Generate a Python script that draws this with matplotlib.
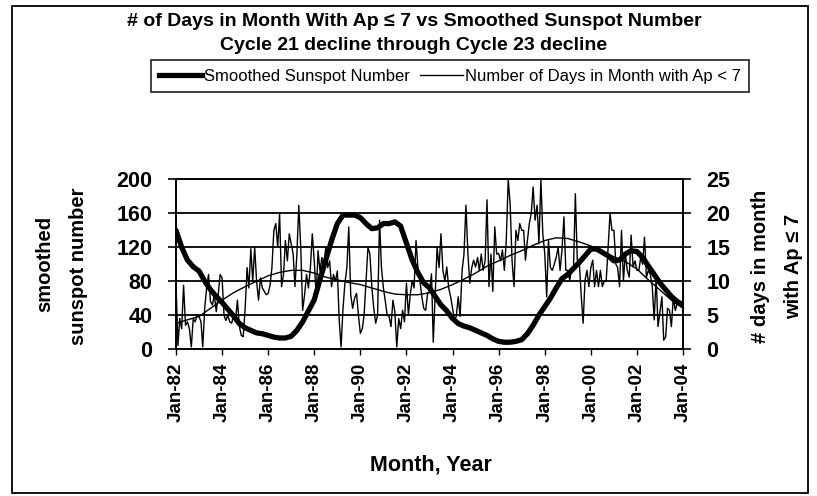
import matplotlib
matplotlib.use("Agg")
import matplotlib.pyplot as plt
import matplotlib.dates as mdates
from matplotlib.lines import Line2D
from matplotlib.patches import Rectangle
import pandas as pd

plt.rcParams['font.family'] = ['Liberation Sans', 'DejaVu Sans']

# ---------------- data ----------------
# Smoothed sunspot number, quarterly (Jan/Apr/Jul/Oct), Jan-1982 .. Jan-2004
ssn_values = [
    140, 120, 105, 97,    # 1982
    92, 80, 70, 62,       # 1983
    55, 47, 39, 30,       # 1984
    25, 22, 19, 18,       # 1985
    16, 14, 13, 13,       # 1986
    15, 22, 32, 45,       # 1987
    58, 82, 105, 128,     # 1988
    148, 158, 158, 158,   # 1989
    155, 148, 142, 143,   # 1990
    148, 148, 150, 145,   # 1991
    125, 105, 90, 78,     # 1992
    72, 62, 52, 45,       # 1993
    36, 30, 27, 25,       # 1994
    22, 19, 16, 12,       # 1995
    9, 8, 8, 9,           # 1996
    11, 18, 28, 40,       # 1997
    50, 60, 72, 83,       # 1998
    88, 95, 102, 110,     # 1999
    118, 118, 114, 110,   # 2000
    104, 105, 112, 116,   # 2001
    115, 108, 98, 88,     # 2002
    78, 70, 62, 56,       # 2003
    52,                   # Jan 2004
]

# Number of days in month with Ap <= 7, monthly, Jan-1982 .. Jan-2004
days_values = [
    9.7, 0.5, 4.5, 3.0, 9.4, 3.5, 4.0, 3.0, 0.3, 4.5, 4.0, 5.0,          # 1982
    4.8, 4.0, 0.3, 6.0, 9.0, 11.0, 7.0, 6.5, 8.0, 5.5, 8.0, 11.0,        # 1983
    10.5, 5.0, 4.2, 5.0, 4.0, 3.8, 5.0, 4.3, 7.2, 3.3, 2.0, 1.8,         # 1984
    6.0, 12.0, 9.0, 14.8, 10.0, 15.0, 10.0, 7.2, 10.5, 9.0, 8.5, 8.0,    # 1985
    8.2, 9.5, 12.0, 17.5, 18.5, 15.0, 20.0, 9.2, 11.0, 16.0, 13.0, 17.0, # 1986
    15.5, 14.0, 9.2, 14.0, 21.2, 15.0, 5.7, 8.0, 11.0, 9.0, 12.0, 17.0,  # 1987
    13.0, 7.7, 14.5, 11.5, 13.5, 12.0, 15.0, 12.0, 13.0, 9.2, 11.0, 10.0, # 1988
    11.5, 4.0, 0.3, 6.0, 9.7, 12.0, 18.0, 8.0, 6.0, 7.5, 8.2, 5.0,       # 1989
    2.3, 3.0, 5.0, 10.0, 15.0, 14.0, 9.2, 6.0, 3.8, 5.0, 19.0, 12.0,     # 1990
    9.0, 7.0, 5.0, 4.8, 3.3, 7.2, 5.5, 0.3, 4.5, 3.0, 5.7, 4.0,          # 1991
    9.7, 5.0, 8.0, 10.1, 9.0, 16.0, 12.0, 10.1, 7.7, 6.0, 5.7, 8.2,      # 1992
    8.5, 11.1, 1.0, 8.0, 15.0, 12.0, 17.0, 11.6, 10.0, 12.1, 9.0, 7.7,   # 1993
    6.0, 4.3, 4.8, 7.7, 4.8, 11.6, 14.0, 21.2, 14.1, 9.7, 12.0, 13.1,    # 1994
    12.1, 13.5, 11.6, 14.0, 11.6, 13.0, 22.0, 9.2, 14.0, 8.5, 18.0, 14.0, # 1995
    14.1, 13.0, 14.6, 11.6, 16.0, 25.0, 21.5, 13.0, 9.2, 17.5, 16.0, 18.5, # 1996
    17.5, 17.5, 13.1, 16.0, 18.5, 20.0, 23.9, 19.0, 21.2, 15.5, 25.0, 17.0, # 1997
    14.1, 7.7, 16.0, 12.0, 11.6, 12.5, 13.5, 15.0, 11.6, 14.6, 19.5, 11.6, # 1998
    11.6, 10.1, 12.0, 11.6, 22.9, 13.0, 13.1, 8.0, 3.8, 10.1, 11.6, 9.2,  # 1999
    12.0, 13.1, 9.2, 11.6, 9.2, 11.6, 9.2, 10.0, 10.1, 15.0, 20.0, 17.5,  # 2000
    17.5, 12.5, 12.0, 9.2, 17.5, 10.1, 14.0, 11.6, 10.6, 16.8, 12.1, 13.0, # 2001
    11.6, 11.6, 13.5, 12.5, 16.5, 10.6, 11.6, 11.0, 9.2, 4.3, 10.6, 3.3,  # 2002
    5.5, 7.7, 1.3, 1.8, 6.0, 5.7, 3.3, 7.7, 5.7, 6.7, 7.0, 6.5,          # 2003
    7.0,                                                                  # Jan 2004
]

# Smooth trend of the days series, semi-annual (Jan/Jul)
trend_values = [
    3.8, 4.3, 4.8, 6.0, 7.2, 8.3, 9.2, 10.0, 10.8, 11.3, 11.6, 11.6,
    11.2, 10.6, 10.2, 9.8, 9.5, 9.0, 8.5, 8.1, 8.0, 8.0, 8.3, 8.8,
    9.5, 10.3, 11.2, 12.2, 13.0, 13.8, 14.5, 15.3, 16.0, 16.4, 16.3, 15.8,
    15.2, 14.4, 13.6, 12.9, 11.8, 10.2, 8.7, 7.2, 6.0,
]

ssn_dates = pd.date_range('1982-01-01', periods=len(ssn_values), freq='QS-JAN')
days_dates = pd.date_range('1982-01-01', periods=len(days_values), freq='MS')
trend_dates = pd.date_range('1982-01-01', periods=len(trend_values), freq='6MS')

title1 = "# of Days in Month With Ap \u2264 7 vs Smoothed Sunspot Number"
title2 = "Cycle 21 decline through Cycle 23 decline"
left_label = ["smoothed", "sunspot number"]
right_label = ["# days in month", "with Ap \u2264 7"]
legend_labels = ["Smoothed Sunspot Number", "Number of Days in Month with Ap < 7"]

# ---------------- figure ----------------
W, H = 817, 496
fig = plt.figure(figsize=(W / 100, H / 100), dpi=100)
fig.patch.set_facecolor('white')

def fx(px):
    return px / W

def fy(py):
    return 1 - py / H

left, right, top, bottom = 176, 683, 179.5, 349
ax = fig.add_axes([fx(left), fy(bottom), fx(right - left), (bottom - top) / H])
ax2 = ax.twinx()

ax.plot(ssn_dates, ssn_values, color='black', lw=3.8, solid_capstyle='round',
        solid_joinstyle='round', zorder=3)
ax2.plot(days_dates, days_values, color='black', lw=1.0, zorder=4)
ax2.plot(trend_dates, trend_values, color='black', lw=1.0, zorder=4)

ax.set_xlim(pd.Timestamp('1982-01-01'), pd.Timestamp('2004-01-01'))
ax.set_ylim(0, 200)
ax.set_yticks([0, 40, 80, 120, 160, 200])
ax2.set_ylim(0, 25)
ax2.set_yticks([0, 5, 10, 15, 20, 25])

ax.xaxis.set_major_locator(mdates.YearLocator(2))
ax.xaxis.set_major_formatter(mdates.DateFormatter('%b-%y'))

ax.grid(axis='y', color='black', lw=1.3)
ax.set_axisbelow(True)
for a in (ax, ax2):
    for s in a.spines.values():
        s.set_color('black')
        s.set_linewidth(1.2)

ax.tick_params(axis='y', direction='out', length=6, width=1.2, pad=11,
               labelsize=15.5)
ax2.tick_params(axis='y', direction='out', length=6, width=1.2, pad=11,
                labelsize=15.5)
ax.tick_params(axis='x', direction='out', length=4, width=1.0, pad=6,
               labelsize=13.5, labelrotation=90)
for lab in ax.get_yticklabels() + ax2.get_yticklabels() + ax.get_xticklabels():
    lab.set_fontweight('bold')

# axis titles
fig.text(fx(45), fy(264), left_label[0], rotation=90, ha='center', va='center',
         fontsize=14.5, fontweight='bold')
fig.text(fx(78), fy(266), left_label[1], rotation=90, ha='center', va='center',
         fontsize=14.5, fontweight='bold')
fig.text(fx(761), fy(266), right_label[0], rotation=90, ha='center', va='center',
         fontsize=14.5, fontweight='bold')
fig.text(fx(794), fy(266), right_label[1], rotation=90, ha='center', va='center',
         fontsize=14.5, fontweight='bold')
fig.text(fx(431), fy(465), "Month, Year", ha='center', va='center',
         fontsize=15.5, fontweight='bold')

# title
fig.text(fx(414), fy(22), title1, ha='center', va='center', fontsize=14,
         fontweight='bold')
fig.text(fx(414), fy(46), title2, ha='center', va='center', fontsize=14,
         fontweight='bold')

# legend
handles = [Line2D([], [], color='black', lw=3.8),
           Line2D([], [], color='black', lw=1.0)]
leg = fig.legend(handles, legend_labels, loc='center',
                 bbox_to_anchor=(fx(450), fy(76)), ncol=2, frameon=True,
                 fancybox=False, edgecolor='black', fontsize=12,
                 handlelength=2.6, handletextpad=0.1, columnspacing=0.6,
                 borderpad=0.5, borderaxespad=0)
leg.get_frame().set_linewidth(1.3)

# outer border
fig.patches.append(Rectangle((fx(12), fy(493)), fx(808 - 12), (493 - 6) / H,
                             transform=fig.transFigure, fill=False,
                             edgecolor='black', lw=1.3))

fig.savefig('out.png', dpi=100, facecolor='white')
